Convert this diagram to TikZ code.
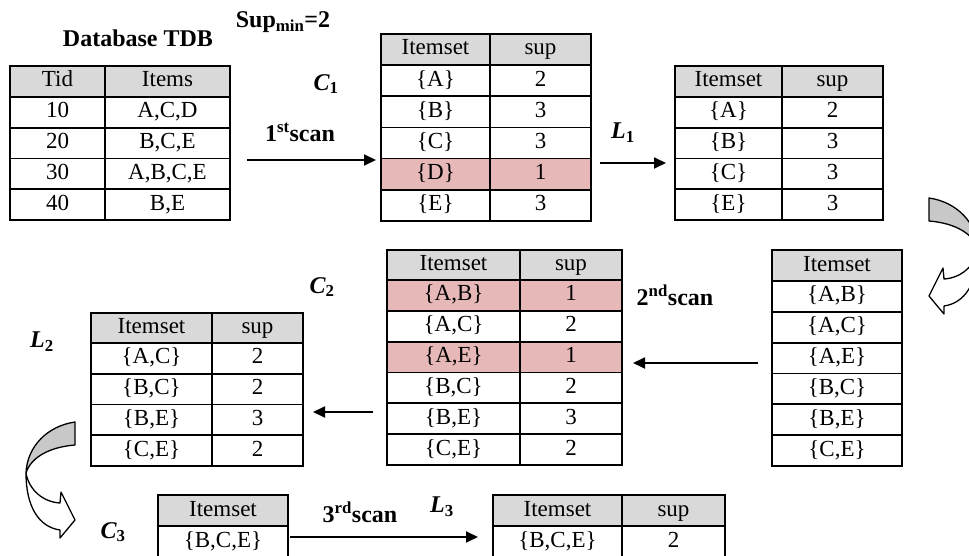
\documentclass[tikz,border=0pt]{standalone}
\usepackage{fontspec}
\setmainfont{Liberation Serif}
\usetikzlibrary{arrows.meta}
\definecolor{hdr}{RGB}{217,217,217}
\definecolor{pinkc}{RGB}{230,185,184}
\definecolor{crescent}{RGB}{200,200,200}
\newcommand{\tcell}[7]{\node[cell,fill=#6,minimum width=#4pt,minimum height=#5pt] (#1) at (#2,#3) {#7};}
\newcommand{\curvedarrowshape}{%
  \filldraw[bendshape,fill=crescent] (0,0) .. controls (-28,4) and (-48,25) .. (-49,51)
     .. controls (-44,35) and (-25,25) .. (0,23) -- cycle;
  \filldraw[bendshape,fill=white] (-49,51) .. controls (-46,68) and (-32,80) .. (-15,81)
     -- (-14,70) -- (0,98) -- (-15,116) -- (-15,108)
     .. controls (-36,105) and (-49,85) .. (-49,51) -- cycle;
}
\begin{document}
\begin{tikzpicture}[x=1pt,y=-1pt,
  cell/.style={draw=black,line width=1.7pt,inner sep=0pt,outer sep=0pt,anchor=north west,
     text height=15.5pt,text depth=4.5pt,font=\fontsize{23}{23}\selectfont},
  lbl/.style={font=\fontsize{24}{24}\selectfont\bfseries,inner sep=0pt},
  ilbl/.style={font=\fontsize{24}{24}\selectfont\bfseries\itshape,inner sep=0pt},
  arr/.style={line width=1.8pt,-{Triangle[length=12pt,width=11pt]}},
  bendshape/.style={draw=black,line width=1.3pt,line join=round}]
\clip (0,0) rectangle (969,556);
\fill[white] (0,0) rectangle (969,556);

% ---- Database TDB
\tcell{tdb-0-1}{10}{66}{95}{31}{hdr}{Tid}
\tcell{tdb-0-2}{105}{66}{125}{31}{hdr}{Items}
\tcell{tdb-1-1}{10}{97}{95}{30.75}{white}{10}
\tcell{tdb-1-2}{105}{97}{125}{30.75}{white}{A,C,D}
\tcell{tdb-2-1}{10}{127.75}{95}{30.75}{white}{20}
\tcell{tdb-2-2}{105}{127.75}{125}{30.75}{white}{B,C,E}
\tcell{tdb-3-1}{10}{158.5}{95}{30.75}{white}{30}
\tcell{tdb-3-2}{105}{158.5}{125}{30.75}{white}{A,B,C,E}
\tcell{tdb-4-1}{10}{189.25}{95}{30.75}{white}{40}
\tcell{tdb-4-2}{105}{189.25}{125}{30.75}{white}{B,E}

% ---- C1
\tcell{c1-0-1}{381}{34}{109}{31}{hdr}{Itemset}
\tcell{c1-0-2}{490}{34}{101}{31}{hdr}{sup}
\tcell{c1-1-1}{381}{65}{109}{31.2}{white}{\{A\}}
\tcell{c1-1-2}{490}{65}{101}{31.2}{white}{2}
\tcell{c1-2-1}{381}{96.2}{109}{31.2}{white}{\{B\}}
\tcell{c1-2-2}{490}{96.2}{101}{31.2}{white}{3}
\tcell{c1-3-1}{381}{127.4}{109}{31.2}{white}{\{C\}}
\tcell{c1-3-2}{490}{127.4}{101}{31.2}{white}{3}
\tcell{c1-4-1}{381}{158.6}{109}{31.2}{pinkc}{\{D\}}
\tcell{c1-4-2}{490}{158.6}{101}{31.2}{pinkc}{1}
\tcell{c1-5-1}{381}{189.8}{109}{31.2}{white}{\{E\}}
\tcell{c1-5-2}{490}{189.8}{101}{31.2}{white}{3}

% ---- L1
\tcell{l1-0-1}{675}{66}{107}{31}{hdr}{Itemset}
\tcell{l1-0-2}{782}{66}{101}{31}{hdr}{sup}
\tcell{l1-1-1}{675}{97}{107}{30.75}{white}{\{A\}}
\tcell{l1-1-2}{782}{97}{101}{30.75}{white}{2}
\tcell{l1-2-1}{675}{127.75}{107}{30.75}{white}{\{B\}}
\tcell{l1-2-2}{782}{127.75}{101}{30.75}{white}{3}
\tcell{l1-3-1}{675}{158.5}{107}{30.75}{white}{\{C\}}
\tcell{l1-3-2}{782}{158.5}{101}{30.75}{white}{3}
\tcell{l1-4-1}{675}{189.25}{107}{30.75}{white}{\{E\}}
\tcell{l1-4-2}{782}{189.25}{101}{30.75}{white}{3}

% ---- candidate itemsets
\tcell{cd-0-1}{772}{250}{130}{31}{hdr}{Itemset}
\tcell{cd-1-1}{772}{281}{130}{30.83}{white}{\{A,B\}}
\tcell{cd-2-1}{772}{311.83}{130}{30.83}{white}{\{A,C\}}
\tcell{cd-3-1}{772}{342.66}{130}{30.83}{white}{\{A,E\}}
\tcell{cd-4-1}{772}{373.49}{130}{30.83}{white}{\{B,C\}}
\tcell{cd-5-1}{772}{404.32}{130}{30.83}{white}{\{B,E\}}
\tcell{cd-6-1}{772}{435.15}{130}{30.83}{white}{\{C,E\}}

% ---- C2
\tcell{c2-0-1}{387}{250}{133}{30}{hdr}{Itemset}
\tcell{c2-0-2}{520}{250}{102}{30}{hdr}{sup}
\tcell{c2-1-1}{387}{280}{133}{30.83}{pinkc}{\{A,B\}}
\tcell{c2-1-2}{520}{280}{102}{30.83}{pinkc}{1}
\tcell{c2-2-1}{387}{310.83}{133}{30.83}{white}{\{A,C\}}
\tcell{c2-2-2}{520}{310.83}{102}{30.83}{white}{2}
\tcell{c2-3-1}{387}{341.66}{133}{30.83}{pinkc}{\{A,E\}}
\tcell{c2-3-2}{520}{341.66}{102}{30.83}{pinkc}{1}
\tcell{c2-4-1}{387}{372.49}{133}{30.83}{white}{\{B,C\}}
\tcell{c2-4-2}{520}{372.49}{102}{30.83}{white}{2}
\tcell{c2-5-1}{387}{403.32}{133}{30.83}{white}{\{B,E\}}
\tcell{c2-5-2}{520}{403.32}{102}{30.83}{white}{3}
\tcell{c2-6-1}{387}{434.15}{133}{30.83}{white}{\{C,E\}}
\tcell{c2-6-2}{520}{434.15}{102}{30.83}{white}{2}

% ---- L2
\tcell{l2-0-1}{91}{313}{121}{30}{hdr}{Itemset}
\tcell{l2-0-2}{212}{313}{91}{30}{hdr}{sup}
\tcell{l2-1-1}{91}{343}{121}{30.75}{white}{\{A,C\}}
\tcell{l2-1-2}{212}{343}{91}{30.75}{white}{2}
\tcell{l2-2-1}{91}{373.75}{121}{30.75}{white}{\{B,C\}}
\tcell{l2-2-2}{212}{373.75}{91}{30.75}{white}{2}
\tcell{l2-3-1}{91}{404.5}{121}{30.75}{white}{\{B,E\}}
\tcell{l2-3-2}{212}{404.5}{91}{30.75}{white}{3}
\tcell{l2-4-1}{91}{435.25}{121}{30.75}{white}{\{C,E\}}
\tcell{l2-4-2}{212}{435.25}{91}{30.75}{white}{2}

% ---- C3
\tcell{c3-0-1}{158}{495}{130}{31}{hdr}{Itemset}
\tcell{c3-1-1}{158}{526}{130}{32}{white}{\{B,C,E\}}

% ---- L3
\tcell{l3-0-1}{493}{495}{129}{31}{hdr}{Itemset}
\tcell{l3-0-2}{622}{495}{103}{31}{hdr}{sup}
\tcell{l3-1-1}{493}{526}{129}{32}{white}{\{B,C,E\}}
\tcell{l3-1-2}{622}{526}{103}{32}{white}{2}

% ---- labels
\node[lbl] (title) at (138,38) {Database TDB};
\node[lbl] (supmin) at (283,22) {Sup\textsubscript{min}=2};
\node[ilbl] (c1lbl) at (326,84) {C\textsubscript{\upshape 1}};
\node[lbl] (scan1) at (300,132) {1\textsuperscript{st}scan};
\node[ilbl] (l1lbl) at (623,133) {L\textsubscript{\upshape 1}};
\node[ilbl] (c2lbl) at (322,287) {C\textsubscript{\upshape 2}};
\node[lbl] (scan2) at (675,295) {2\textsuperscript{nd}scan};
\node[ilbl] (l2lbl) at (42,342) {L\textsubscript{\upshape 2}};
\node[ilbl] (c3lbl) at (113,532) {C\textsubscript{\upshape 3}};
\node[lbl] (scan3) at (360,512) {3\textsuperscript{rd}scan};
\node[ilbl] (l3lbl) at (442,507) {L\textsubscript{\upshape 3}};

% ---- straight arrows
\coordinate (a1s) at (247,160);
\draw[arr,shorten >=5pt] (a1s) -- (a1s -| c1-0-1.west);
\coordinate (a2s) at (600,163);
\draw[arr,shorten >=9pt] (a2s) -- (a2s -| l1-0-1.west);
\coordinate (a3s) at (758,363);
\draw[arr,shorten >=11pt] (a3s) -- (a3s -| c2-0-2.east);
\coordinate (a4s) at (373,412);
\draw[arr,shorten >=10pt] (a4s) -- (a4s -| l2-0-2.east);
\coordinate (a5s) at (290,537);
\draw[arr,shorten >=15pt] (a5s) -- (a5s -| l3-0-1.west);

% ---- curved block arrows
\begin{scope}[shift={(929,198)},xscale=-1]
  \curvedarrowshape
\end{scope}
\begin{scope}[shift={(75,422)}]
  \curvedarrowshape
\end{scope}
\end{tikzpicture}
\end{document}
